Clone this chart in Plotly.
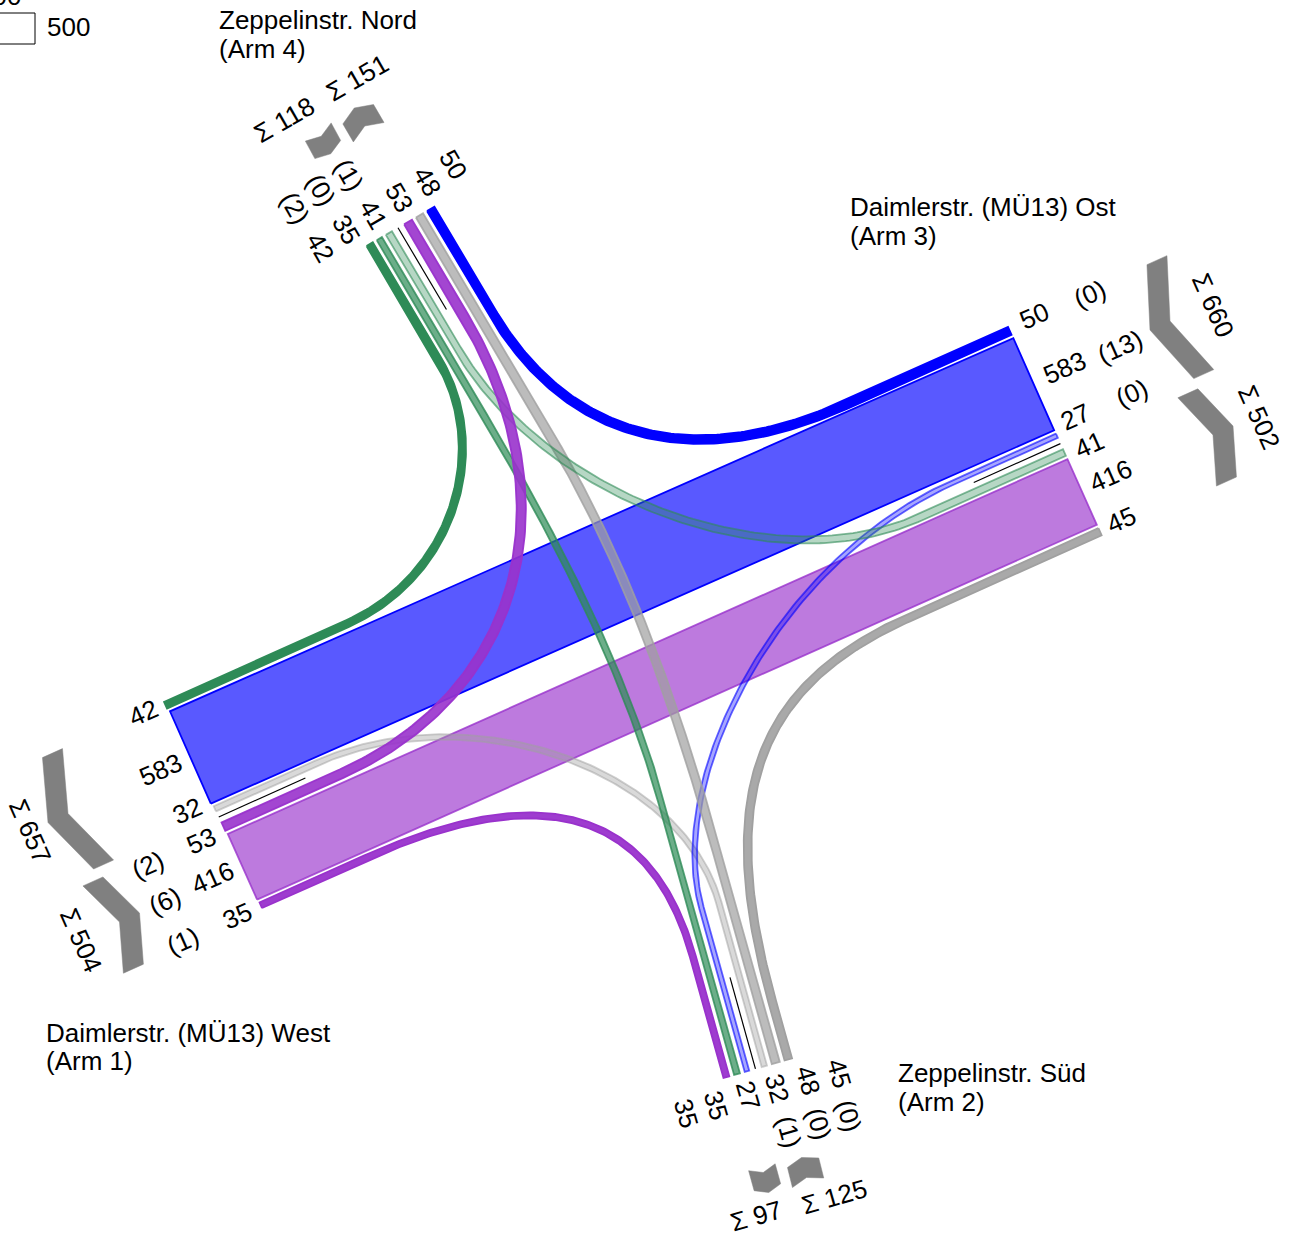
import numpy as np
import plotly.graph_objects as go

# traffic counts per arm, in the order the slots sit along the arm
west_values = [42, 583, 32, 53, 416, 35]
south_values = [35, 35, 27, 32, 48, 45]
east_values = [50, 583, 27, 41, 416, 45]
north_values = [42, 35, 41, 53, 48, 50]

# heavy traffic counts in brackets
west_heavy = ['(2)', '(6)', '(1)']
south_heavy = ['(1)', '(0)', '(0)']
east_heavy = ['(0)', '(13)', '(0)']
north_heavy = ['(2)', '(0)', '(1)']

# arm totals
west_sums = [657, 504]
south_sums = [97, 125]
east_sums = [660, 502]
north_sums = [118, 151]

legend_value = 500

SCALE = 0.173
BLUE, PURPLE, GREEN, GREY = '0,0,255', '153,50,204', '46,139,87', '160,160,160'

# anchor, cross direction, inward direction, gap, median gap, slots before median
arms = {
    'W': dict(values=west_values, anchor=(164, 702), cross=(.43, .903), inward=(.912, -.41), gap=3.7, median=12.5, split=3),
    'E': dict(values=east_values, anchor=(1008, 327), cross=(.41, .912), inward=(-.912, .41), gap=3.7, median=12.5, split=3),
    'N': dict(values=north_values, anchor=(366.5, 246), cross=(.865, -.5), inward=(.51, .86), gap=4.5, median=14, split=3),
    'S': dict(values=south_values, anchor=(723.5, 1078), cross=(.96, -.275), inward=(-.268, -.963), gap=5, median=13, split=3),
}

# arm a, slot a, arm b, slot b, colour, fill alpha, line alpha, route (straight a, handle a, handle b, straight b)
flows = [
    ('W', 1, 'E', 1, BLUE, .65, 1, None),
    ('W', 4, 'E', 4, PURPLE, .65, .8, None),
    ('W', 5, 'S', 0, PURPLE, .95, 1, (115, 185, 160, 125)),
    ('W', 2, 'S', 3, GREY, .4, .5, (110, 170, 140, 170)),
    ('E', 5, 'S', 5, GREY, .9, 1, (210, 162, 220, 60)),
    ('E', 2, 'S', 2, BLUE, .35, .6, (115, 190, 135, 170)),
    ('N', 1, 'S', 1, GREEN, .7, .8, (180, 150, 150, 280)),
    ('N', 4, 'S', 4, GREY, .7, .8, (260, 155, 155, 200)),
    ('N', 2, 'E', 3, GREEN, .35, .6, (135, 175, 160, 158)),
    ('N', 0, 'W', 0, GREEN, 1, 1, (135, 105, 115, 200)),
    ('N', 3, 'W', 3, PURPLE, .9, .95, (110, 215, 197, 130)),
    ('N', 5, 'E', 0, BLUE, 1, 1, (120, 145, 174, 178)),
]

# summary chevrons: apex, direction of each leg, cut across the chevron
chevrons = [
    (east_sums[0], (1160, 325.5), (-3, -64.5), (45, 50), (20, -9)),
    (east_sums[1], (1223, 430.5), (-35, -37), (3.5, 52), (20, -9)),
    (west_sums[0], (58, 818), (-5.5, -64.5), (47, 48), (20, -9)),
    (west_sums[1], (129.5, 917.5), (-37, -36.5), (4, 52.5), (20, -9)),
    (north_sums[0], (326, 145), (-18, 5.5), (10, -13.5), (9.5, 17.5)),
    (north_sums[1], (359.5, 117), (-12.5, 17.5), (19.5, -3.5), (10.5, 18)),
    (south_sums[0], (766, 1182.5), (-16.5, -2), (13, -9.5), (5.5, 20)),
    (south_sums[1], (804, 1167.5), (-14, 10), (18, .5), (5, 20)),
]


def port(arm, slot):
    """Centre of a slot at the arm end, and its width."""
    a = arms[arm]
    pos = 0
    for i in range(slot):
        pos += a['values'][i] * SCALE + a['gap']
        if i + 1 == a['split']:
            pos += a['median'] - a['gap']
    w = a['values'][slot] * SCALE
    return np.array(a['anchor']) + np.array(a['cross']) * (pos + w / 2), w


def median_line(arm):
    a = arms[arm]
    pos = sum(v * SCALE + a['gap'] for v in a['values'][:a['split']]) - a['gap'] + a['median'] / 2
    start = np.array(a['anchor']) + np.array(a['cross']) * pos
    return start, start + np.array(a['inward']) * 95


def centreline(p1, d1, p2, d2, route):
    if route is None:
        return np.array([p1, p2])
    s1, h1, h2, s2 = route
    b0, b3 = p1 + d1 * s1, p2 + d2 * s2
    b1, b2 = b0 + d1 * h1, b3 + d2 * h2
    t = np.linspace(0, 1, 120)[:, None]
    curve = (1 - t) ** 3 * b0 + 3 * (1 - t) ** 2 * t * b1 + 3 * (1 - t) * t ** 2 * b2 + t ** 3 * b3
    return np.vstack([p1, curve, p2])


def ribbon(line, width):
    tangent = np.gradient(line, axis=0)
    tangent /= np.linalg.norm(tangent, axis=1)[:, None]
    normal = np.column_stack([-tangent[:, 1], tangent[:, 0]])
    left, right = line + normal * width / 2, line - normal * width / 2
    return np.vstack([left, right[::-1], left[:1]])


def chevron(total, apex, d1, d2, cut):
    apex = np.array(apex, dtype=float)
    length = 6 + 0.09 * total
    d1 = np.array(d1) / np.hypot(*d1)
    d2 = np.array(d2) / np.hypot(*d2)
    half = np.array(cut) / 2
    end1, end2 = apex + d1 * length, apex + d2 * length
    return np.array([end1 + half, apex + half, end2 + half, end2 - half, apex - half, end1 - half, end1 + half])


fig = go.Figure()

for arm_a, slot_a, arm_b, slot_b, colour, fill_a, line_a, route in flows:
    p1, w = port(arm_a, slot_a)
    p2, _ = port(arm_b, slot_b)
    d1, d2 = np.array(arms[arm_a]['inward']), np.array(arms[arm_b]['inward'])
    shape = ribbon(centreline(p1, d1, p2, d2, route), w)
    fig.add_trace(go.Scatter(
        x=shape[:, 0], y=shape[:, 1], mode='lines', fill='toself',
        fillcolor=f'rgba({colour},{fill_a})',
        line=dict(color=f'rgba({colour},{line_a})', width=1.8),
        hoverinfo='skip',
    ))

for arm in arms:
    start, end = median_line(arm)
    fig.add_trace(go.Scatter(x=[start[0], end[0]], y=[start[1], end[1]], mode='lines',
                             line=dict(color='black', width=1.2), hoverinfo='skip'))

for item in chevrons:
    shape = chevron(*item)
    fig.add_trace(go.Scatter(x=shape[:, 0], y=shape[:, 1], mode='lines', fill='toself',
                             fillcolor='#808080', line=dict(color='#808080', width=0.5), hoverinfo='skip'))


def label(text, x, y, angle=0, anchor='center'):
    fig.add_annotation(x=x, y=y, text=text, textangle=angle, showarrow=False, xanchor=anchor, yanchor='middle',
                       font=dict(family='Liberation Sans', size=26, color='black'))


# slot labels, centres in page pixels
for v, xy in zip(east_values, [(1034, 316), (1064, 368), (1075, 417), (1089, 445), (1110, 476), (1121, 520)]):
    label(str(v), *xy, angle=-24)
for v, xy in zip(west_values, [(143, 713), (160, 770), (187, 811), (201, 841), (212, 878), (237, 916)]):
    label(str(v), *xy, angle=-24)
for v, xy in zip(north_values, [(320, 247), (346, 229), (373, 214), (399, 197), (427, 181), (453, 164)]):
    label(str(v), *xy, angle=60)
for v, xy in zip(south_values, [(686, 1113), (716, 1105), (748, 1095), (777, 1088), (808, 1080), (839, 1073)]):
    label(str(v), *xy, angle=74)

for t, xy in zip(east_heavy, [(1090, 294), (1120, 347), (1132, 393)]):
    label(t, *xy, angle=-24)
for t, xy in zip(west_heavy, [(148, 865), (165, 901), (183, 941)]):
    label(t, *xy, angle=-24)
for t, xy in zip(north_heavy, [(295, 208), (321, 190), (349, 175)]):
    label(t, *xy, angle=60)
for t, xy in zip(south_heavy, [(789, 1132), (819, 1124), (849, 1116)]):
    label(t, *xy, angle=74)

label(f'Σ {east_sums[0]}', 1213, 305, angle=66)
label(f'Σ {east_sums[1]}', 1259, 417, angle=66)
label(f'Σ {west_sums[0]}', 30, 831, angle=66)
label(f'Σ {west_sums[1]}', 81, 940, angle=66)
label(f'Σ {north_sums[0]}', 284, 120, angle=-30)
label(f'Σ {north_sums[1]}', 357, 78, angle=-30)
label(f'Σ {south_sums[0]}', 756, 1216, angle=-16)
label(f'Σ {south_sums[1]}', 834, 1197, angle=-16)

# arm names, two lines each
label('Zeppelinstr. Nord', 217, 20, anchor='left')
label('(Arm 4)', 217, 49, anchor='left')
label('Daimlerstr. (MÜ13) Ost', 848, 207, anchor='left')
label('(Arm 3)', 848, 236, anchor='left')
label('Daimlerstr. (MÜ13) West', 44, 1033, anchor='left')
label('(Arm 1)', 44, 1061, anchor='left')
label('Zeppelinstr. Süd', 896, 1073, anchor='left')
label('(Arm 2)', 896, 1102, anchor='left')

# size legend, cut off by the page edge as in the source
fig.add_shape(type='rect', xref='paper', yref='paper', x0=-10 / 1295, x1=35 / 1295, y0=1 - 44 / 1234, y1=1 - 13 / 1234,
              line=dict(color='black', width=1), fillcolor='white')
label(str(legend_value), 68, 27)
fig.add_annotation(xref='paper', yref='paper', x=-1 / 1295, y=1 + 4 / 1234, xanchor='center', yanchor='middle',
                   text=str(legend_value), showarrow=False,
                   font=dict(family='Liberation Sans', size=26, color='black'))

fig.update_layout(
    width=1295, height=1234,
    margin=dict(l=0, r=0, t=0, b=0),
    paper_bgcolor='white', plot_bgcolor='white',
    showlegend=False,
    xaxis=dict(range=[0, 1295], visible=False),
    yaxis=dict(range=[1234, 0], visible=False),
)

fig.write_html("out.html", config=dict(displayModeBar=False), post_script="document.body.style.margin='0';")
